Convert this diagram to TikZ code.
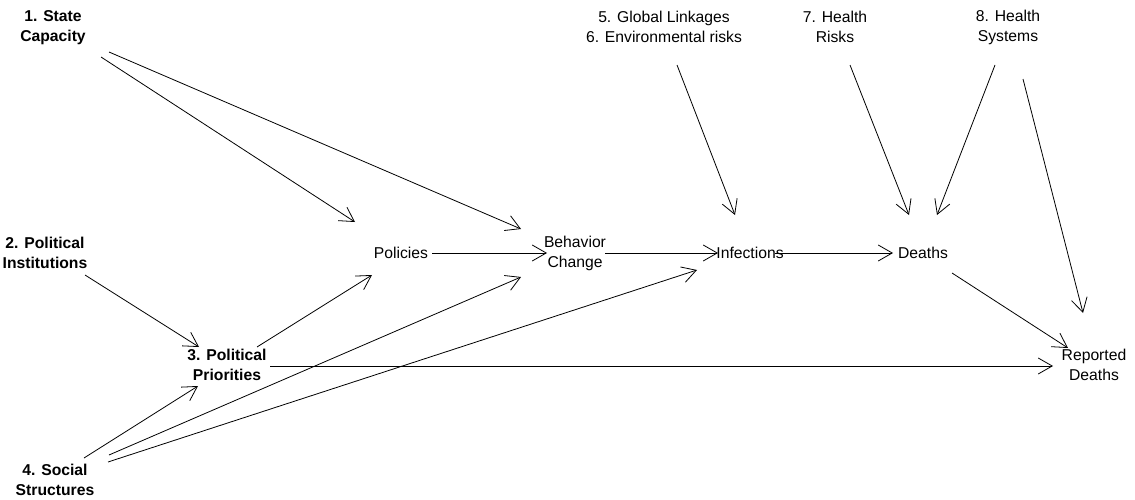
\documentclass[tikz,border=0pt]{standalone}
\usepackage{fontspec}
\setmainfont{Liberation Sans}
\usetikzlibrary{arrows.meta}
\begin{document}
\begin{tikzpicture}[x=1pt,y=-1pt,
  lbl/.style={align=center,inner sep=0pt,font=\fontsize{15.7}{20}\selectfont},
  blbl/.style={lbl,font=\fontsize{15.7}{20}\selectfont\bfseries},
  arr/.style={line width=0.8pt,-{Straight Barb[length=14pt,width=16pt,line width=0.8pt]}}]
\useasboundingbox (0,0) rectangle (1135,500);
\node[blbl] (s1) at (53,28) {1. State\\Capacity};
\node[blbl] (s2) at (45,253) {2. Political\\Institutions};
\node[blbl] (s3) at (227,365) {3. Political\\Priorities};
\node[blbl] (s4) at (55,480) {4. Social\\Structures};
\node[lbl] (pol) at (401,253) {Policies};
\node[lbl] (beh) at (575,253) {Behavior\\Change};
\node[lbl] (inf) at (750,253) {Infections};
\node[lbl] (dea) at (923,253) {Deaths};
\node[lbl] (rep) at (1094,365) {Reported\\Deaths};
\node[lbl] (g56) at (664,27) {5. Global Linkages\\6. Environmental risks};
\node[lbl] (h7) at (835,27) {7. Health\\Risks};
\node[lbl] (h8) at (1008,27) {8. Health\\Systems};
\draw[arr] ([shift={(48,29)}]s1.center) -- ([shift={(-46,-31)}]pol.center);
\draw[arr] ([shift={(56,24)}]s1.center) -- ([shift={(-54,-24)}]beh.center);
\draw[arr] ([shift={(40,22)}]s2.center) -- ([shift={(-28,-18)}]s3.center);
\draw[arr] ([shift={(30,-18)}]s3.center) -- ([shift={(-29,22)}]pol.center);
\draw[arr] ([shift={(43,1)}]s3.center) -- ([shift={(-41,1)}]rep.center);
\draw[arr] ([shift={(29,-22)}]s4.center) -- ([shift={(-29,21)}]s3.center);
\draw[arr] ([shift={(54,-25)}]s4.center) -- ([shift={(-54,24)}]beh.center);
\draw[arr] ([shift={(53,-18)}]s4.center) -- ([shift={(-53,17)}]inf.center);
\draw[arr] ([shift={(31,0)}]pol.center) -- ([shift={(-28,0)}]beh.center);
\draw[arr] ([shift={(30,0)}]beh.center) -- ([shift={(-32,0)}]inf.center);
\draw[arr] ([shift={(25,0)}]inf.center) -- ([shift={(-30,0)}]dea.center);
\draw[arr] ([shift={(13,38)}]g56.center) -- ([shift={(-15,-38)}]inf.center);
\draw[arr] ([shift={(15,38)}]h7.center) -- ([shift={(-14,-38)}]dea.center);
\draw[arr] ([shift={(-13,38)}]h8.center) -- ([shift={(14,-38)}]dea.center);
\draw[arr] ([shift={(15,52)}]h8.center) -- ([shift={(-11,-52)}]rep.center);
\draw[arr] ([shift={(29,20)}]dea.center) -- ([shift={(-26,-17)}]rep.center);
\end{tikzpicture}
\end{document}
